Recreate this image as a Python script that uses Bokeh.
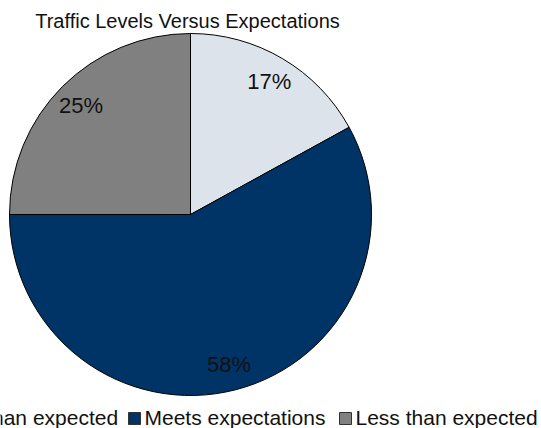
import math
from bokeh.plotting import figure
from bokeh.models import Range1d, ColumnDataSource
from bokeh.core.properties import value
from bokeh.embed import file_html
from bokeh.resources import INLINE

title = "Traffic Levels Versus Expectations"
categories = ["More than expected", "Meets expectations", "Less than expected"]
shares = [17, 58, 25]
colors = ["#dde3ea", "#003366", "#808080"]

W, H = 541, 428
cx, cy, R = 190, H - 214, 181
FONT = "Liberation Sans"

p = figure(width=W, height=H, x_range=Range1d(0, W), y_range=Range1d(0, H),
           output_backend="svg", toolbar_location=None, min_border=0)
p.axis.visible = False
p.grid.visible = False
p.outline_line_color = None
p.background_fill_color = "white"
p.border_fill_color = "white"

# wedges clockwise from top
total = sum(shares)
starts, ends, lx, ly, labels = [], [], [], [], []
a = math.pi / 2
for s in shares:
    sweep = 2 * math.pi * s / total
    e = a - sweep
    starts.append(e)
    ends.append(a)
    mid = (a + e) / 2
    lx.append(cx + 0.855 * R * math.cos(mid))
    ly.append(cy + 0.855 * R * math.sin(mid))
    labels.append(f"{s}%")
    a = e

src = ColumnDataSource(dict(start=starts, end=ends, color=colors,
                            lx=lx, ly=ly, label=labels))
p.wedge(x=cx, y=cy, radius=R, start_angle="start", end_angle="end",
        fill_color="color", line_color="black", line_width=1, source=src)

p.text(x="lx", y="ly", text="label", source=src, text_font=value(FONT),
       text_font_size="22px", text_align="center", text_baseline="middle",
       text_color="#111111")

# title
p.text(x=[187], y=[H - 20], text=[title], text_font=value(FONT),
       text_font_size="20px", text_align="center", text_baseline="middle",
       text_color="#111111")

# legend (left edge of each item's swatch, px)
sw_x = [-84, 128, 339]
mid_y = H - 417
sq = 12
p.rect(x=[x + sq / 2 for x in sw_x], y=[mid_y - 1] * 3, width=sq, height=sq,
       fill_color=colors, line_color="#333333", line_width=1)
p.text(x=[x + sq + 4 for x in sw_x], y=[mid_y] * 3, text=categories,
       text_font=value(FONT), text_font_size="21px", text_align="left",
       text_baseline="middle", text_color="#111111")

open("out.html", "w").write(file_html(p, INLINE))
